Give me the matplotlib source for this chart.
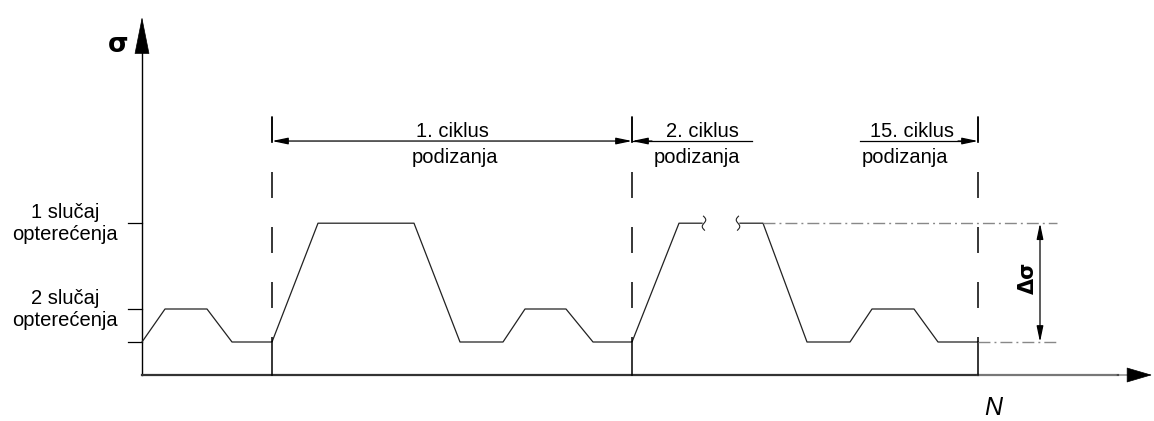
import numpy as np
import matplotlib as mpl
from matplotlib import pyplot as plt

mpl.rcParams['lines.scale_dashes'] = False
mpl.rcParams['font.family'] = ['Liberation Sans', 'DejaVu Sans']

# ===================== Data =====================
# load history: N (load cycles, arbitrary units) and stress level
sig_low, sig_2, sig_1 = 1.0, 2.0, 4.6
n_part1 = [0, 2.3, 6.5, 9.0, 13.0, 17.6, 27.2, 31.8, 36.1, 38.3, 42.4, 45.1, 49.0, 53.7, 56.0]
s_part1 = [sig_low, sig_2, sig_2, sig_low, sig_low, sig_1, sig_1, sig_low,
           sig_low, sig_2, sig_2, sig_low, sig_low, sig_1, sig_1]
n_part2 = [59.8, 62.1, 66.5, 70.8, 73.0, 77.2, 79.6, 83.6]
s_part2 = [sig_1, sig_1, sig_low, sig_low, sig_2, sig_2, sig_low, sig_low]

cycle_bounds = [13.0, 49.0, 83.6]
level_ticks = [sig_1, sig_2, sig_low]
level_labels = ["1 slučaj\nopterećenja", "2 slučaj\nopterećenja"]
cycle_labels = ["1. ciklus", "2. ciklus", "15. ciklus"]
cycle_sub = "podizanja"

n_max = 100.0
s_max = 10.85
dim_level = 7.09
top_dash = 7.82

# ===================== Figure =====================
W, H = 1154, 421
fig = plt.figure(figsize=(W / 100, H / 100), dpi=100)
ax = fig.add_axes([0, 0, 1, 1])
ax.set_xlim(-14.2, -14.2 + W / 10)
ax.set_ylim(375 / 33 - H / 33, 375 / 33)
ax.axis('off')

px_x = 0.1       # data units per pixel in N
px_y = 1 / 33.0  # data units per pixel in sigma
FS = 14.5

def arrow(xy_from, xy_to, style, lw=0.9, color='k'):
    ax.annotate('', xy=xy_to, xytext=xy_from,
                arrowprops=dict(arrowstyle=style, lw=lw, color=color,
                                shrinkA=0, shrinkB=0))

# ===== Axes =====
ax.plot([0, 0], [0, s_max - 34 * px_y], color='k', lw=1.0)
arrow((0, s_max - 36 * px_y), (0, s_max), '-|>,head_length=2.5,head_width=0.5', lw=0.5)
ax.plot([0, cycle_bounds[2]], [0, 0], color='#333333', lw=1.6)
ax.plot([cycle_bounds[2], n_max - 2.4], [0, 0], color='#777777', lw=1.6)
arrow((n_max - 2.5, 0), (n_max + 1.0, 0), '-|>,head_length=1.7,head_width=0.5', lw=0.5)

for lv in level_ticks:
    ax.plot([-1.4, 0], [lv, lv], color='k', lw=0.9)

ax.text(-7.7, sig_1, level_labels[0], ha='center', va='center', fontsize=FS)
ax.text(-7.7, sig_2, level_labels[1], ha='center', va='center', fontsize=FS)

ax.text(-2.4, s_max - 28 * px_y, "σ", ha='center', va='center', fontsize=19,
        fontweight='bold', family='DejaVu Sans')
ax.text(85.1, -46 * px_y + 0.02, "N", ha='center', va='bottom', fontsize=18, style='italic')

# ===== Load history =====
ax.plot(n_part1, s_part1, color='#222222', lw=0.9)
ax.plot(n_part2, s_part2, color='#222222', lw=0.9)

# break marks
t = np.linspace(-1, 1, 30)
for xb, sgn in [(n_part1[-1] + 0.2, 1), (n_part2[0] - 0.2, -1)]:
    ax.plot(xb - sgn * 2.0 * px_x * np.sin(np.pi * t) + sgn * 0.5 * px_x * t,
            sig_1 - 7 * px_y * t, color='#222222', lw=0.8)

# ===== Cycle boundaries =====
for nb in cycle_bounds:
    ax.plot([nb, nb], [top_dash, sig_low], color='k', lw=1.1, dashes=(18.7, 20.9))
    ax.plot([nb, nb], [sig_low, 0], color='k', lw=1.1)
    ax.plot([nb, nb], [top_dash, dim_level], color='k', lw=1.1)

dim_style = '-|>,head_length=0.95,head_width=0.2'
arrow((cycle_bounds[0], dim_level), (cycle_bounds[1], dim_level),
      '<|-|>,head_length=0.95,head_width=0.2')
ax.plot([cycle_bounds[1], 61.0], [dim_level, dim_level], color='k', lw=0.9)
arrow((cycle_bounds[1] + 2.0, dim_level), (cycle_bounds[1], dim_level), dim_style)
ax.plot([71.8, cycle_bounds[2] - 1], [dim_level, dim_level], color='k', lw=0.9)
arrow((cycle_bounds[2] - 2.0, dim_level), (cycle_bounds[2], dim_level), dim_style)

cx = [31.0, 56.0, 77.0]
sub_x = [31.3, 55.5, 76.3]
for x, xs, lab in zip(cx, sub_x, cycle_labels):
    ax.text(x, dim_level + 10 * px_y, lab, ha='center', va='center', fontsize=FS)
    ax.text(xs, dim_level - 16 * px_y, cycle_sub, ha='center', va='center', fontsize=FS)

# ===== Delta sigma =====
ax.plot([n_part2[1], 91.5], [sig_1, sig_1], color='#888888', lw=1.0, dashes=(8.6, 2.9, 1.4, 2.9))
ax.plot([cycle_bounds[2], 91.5], [sig_low, sig_low], color='#888888', lw=1.0,
        dashes=(8.6, 2.9, 1.4, 2.9))
arrow((89.8, sig_low), (89.8, sig_1), '<|-|>,head_length=0.95,head_width=0.2')
ax.text(88.6, (sig_1 + sig_low) / 2 + 0.15, "Δσ", ha='center', va='center', rotation=90,
        fontsize=15, fontweight='bold', family='DejaVu Sans')

plt.savefig("out.png", dpi=100)
